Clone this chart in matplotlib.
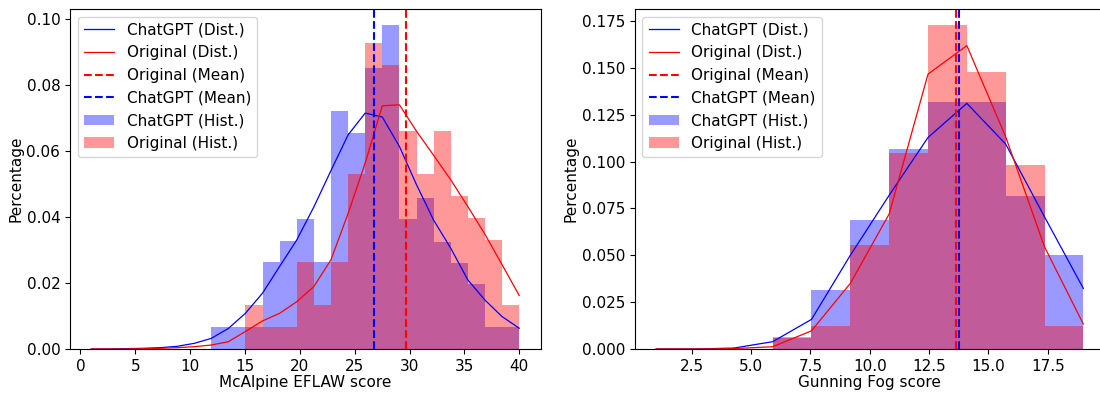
import numpy as np
import matplotlib.pyplot as plt

# bin grid used for both histogram and distribution curve
eflaw_grid = np.linspace(1, 40, 26)
fog_grid = np.linspace(1, 19, 12)

# McAlpine EFLAW (left)
gpt_eflaw_hist = [0, 0, 0, 0, 0, 0, 0, 0.0066, 0.0066, 0.0066, 0.0262, 0.0327, 0.0393,
                  0.0264, 0.072, 0.0655, 0.085, 0.098, 0.0392, 0.0457, 0.0325, 0.026,
                  0.0196, 0.0066, 0.0066]
orig_eflaw_hist = [0, 0, 0, 0, 0, 0, 0, 0, 0, 0.0133, 0.0066, 0.0066, 0.0264, 0.0133,
                   0.0264, 0.053, 0.0926, 0.0859, 0.066, 0.053, 0.066, 0.0463, 0.0396,
                   0.033, 0.0132]
gpt_eflaw_dist = [0.0, 0.0, 0.0001, 0.0002, 0.0004, 0.0008, 0.0017, 0.0032, 0.0062, 0.0108,
                  0.0169, 0.025, 0.033, 0.043, 0.054, 0.0648, 0.0714, 0.0702, 0.0613,
                  0.0497, 0.039, 0.0305, 0.0209, 0.0148, 0.0098, 0.0063]
orig_eflaw_dist = [0.0, 0.0, 0.0, 0.0001, 0.0002, 0.0004, 0.0007, 0.0012, 0.0022, 0.0053,
                   0.0085, 0.0108, 0.0143, 0.0189, 0.027, 0.041, 0.0563, 0.0736, 0.0739,
                   0.0659, 0.0586, 0.0512, 0.0431, 0.0347, 0.0255, 0.0162]
gpt_eflaw_mean = 26.74
orig_eflaw_mean = 29.65

# Gunning Fog (right)
gpt_fog_hist = [0, 0, 0, 0.0058, 0.0313, 0.069, 0.1068, 0.132, 0.132, 0.0817, 0.050]
orig_fog_hist = [0, 0, 0, 0.0062, 0.0123, 0.0553, 0.1047, 0.1727, 0.1478, 0.0984, 0.0123]
gpt_fog_dist = [0.0, 0.0, 0.0005, 0.0039, 0.0158, 0.050, 0.082, 0.1128, 0.131, 0.1093,
                0.0705, 0.0323]
orig_fog_dist = [0.0, 0.0, 0.0002, 0.0012, 0.0097, 0.035, 0.072, 0.1466, 0.1618, 0.1132,
                 0.0545, 0.0133]
gpt_fog_mean = 13.74
orig_fog_mean = 13.64

plt.rcParams['font.size'] = 11


def draw(ax, grid, gpt_hist, orig_hist, gpt_dist, orig_dist, gpt_mean, orig_mean, xlabel):
    ax.plot(grid, gpt_dist, color='blue', linewidth=0.9, label='ChatGPT (Dist.)')
    ax.plot(grid, orig_dist, color='red', linewidth=0.9, label='Original (Dist.)')
    ax.axvline(orig_mean, color='red', linestyle='--', linewidth=1.5, label='Original (Mean)')
    ax.axvline(gpt_mean, color='blue', linestyle='--', linewidth=1.5, label='ChatGPT (Mean)')
    ax.hist(grid[:-1], bins=grid, weights=gpt_hist, histtype='stepfilled',
            color='blue', alpha=0.4, label='ChatGPT (Hist.)')
    ax.hist(grid[:-1], bins=grid, weights=orig_hist, histtype='stepfilled',
            color='red', alpha=0.4, label='Original (Hist.)')
    ax.set_xlabel(xlabel, labelpad=1)
    ax.set_ylabel('Percentage', labelpad=2)
    ax.legend(loc='upper left')


fig = plt.figure(figsize=(11, 3.93), dpi=100)
ax1 = fig.add_axes([70 / 1100, 44 / 393, 470.6 / 1100, 340 / 393])
ax2 = fig.add_axes([634.8 / 1100, 44 / 393, 469.9 / 1100, 340 / 393])

draw(ax1, eflaw_grid, gpt_eflaw_hist, orig_eflaw_hist, gpt_eflaw_dist, orig_eflaw_dist,
     gpt_eflaw_mean, orig_eflaw_mean, 'McAlpine EFLAW score')
draw(ax2, fog_grid, gpt_fog_hist, orig_fog_hist, gpt_fog_dist, orig_fog_dist,
     gpt_fog_mean, orig_fog_mean, 'Gunning Fog score')

fig.savefig('out.png', dpi=100)
